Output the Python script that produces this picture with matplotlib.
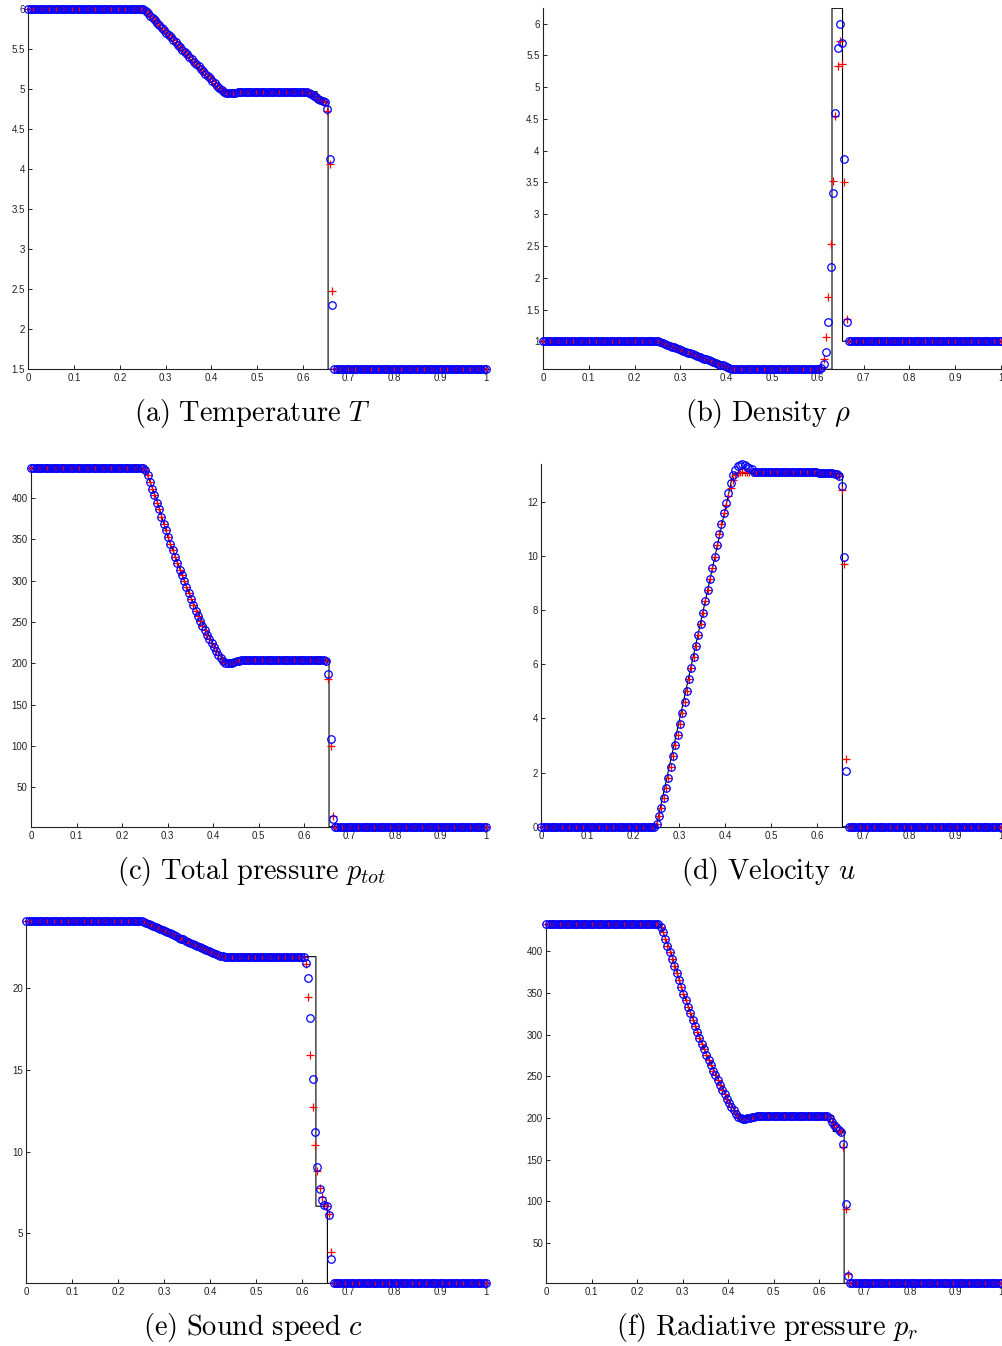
import numpy as np
import matplotlib
matplotlib.use("Agg")
import matplotlib.pyplot as plt

plt.rcParams['font.family'] = ['Liberation Sans', 'DejaVu Sans']
plt.rcParams['mathtext.fontset'] = 'cm'

# ---------------- data ----------------
N_POINTS = 200
N_LEFT, N_FAN, N_PLAT, N_SHOCK, N_RIGHT = 50, 42, 28, 14, 66

x_ticks = [0, 0.1, 0.2, 0.3, 0.4, 0.5, 0.6, 0.7, 0.8, 0.9, 1]
x_tick_labels = ['0', '0.1', '0.2', '0.3', '0.4', '0.5', '0.6', '0.7', '0.8', '0.9', '1']

# (a) Temperature
T_left, T_plat, T_right = 6.0, 4.967, 1.5
T_fan = [5.995, 5.975, 5.947, 5.917, 5.887, 5.857, 5.827, 5.796, 5.766, 5.736,
         5.706, 5.676, 5.645, 5.615, 5.585, 5.555, 5.525, 5.494, 5.464, 5.434,
         5.403, 5.373, 5.343, 5.313, 5.283, 5.253, 5.223, 5.192, 5.162, 5.132,
         5.102, 5.072, 5.042, 5.012, 4.985, 4.963, 4.950, 4.945, 4.946, 4.950,
         4.955, 4.960]
T_shock_o = [4.967, 4.962, 4.952, 4.937, 4.918, 4.898, 4.879, 4.864, 4.852, 4.842,
             4.75, 4.13, 2.30, 1.5]
T_shock_p = [4.967, 4.962, 4.952, 4.937, 4.918, 4.898, 4.879, 4.864, 4.852, 4.842,
             4.72, 4.06, 2.48, 1.5]
T_ex_x = [0, 0.25, 0.42, 0.631, 0.631, 0.655, 0.655, 1]
T_ex_y = [6.0, 6.0, 4.967, 4.967, 4.84, 4.84, 1.5, 1.5]
T_yticks = [1.5, 2, 2.5, 3, 3.5, 4, 4.5, 5, 5.5, 6]
T_ylabels = ['1.5', '2', '2.5', '3', '3.5', '4', '4.5', '5', '5.5', '6']

# (b) Density
rho_left, rho_plat, rho_right = 1.0, 0.559, 1.0
rho_fan = [0.997, 0.983, 0.970, 0.957, 0.943, 0.930, 0.916, 0.903, 0.890, 0.876,
           0.863, 0.849, 0.836, 0.822, 0.809, 0.796, 0.782, 0.769, 0.755, 0.742,
           0.728, 0.715, 0.702, 0.688, 0.675, 0.661, 0.648, 0.634, 0.621, 0.608,
           0.594, 0.582, 0.571, 0.564, 0.561, 0.559, 0.559, 0.559, 0.559, 0.559,
           0.559, 0.559]
rho_shock_o = [0.565, 0.585, 0.643, 0.827, 1.31, 2.17, 3.34, 4.60, 5.61, 6.00,
               5.69, 3.87, 1.31, 1.0]
rho_shock_p = [0.570, 0.600, 0.717, 1.07, 1.69, 2.53, 3.53, 4.54, 5.33, 5.73,
               5.36, 3.51, 1.35, 1.0]
rho_ex_x = [0, 0.25, 0.415, 0.631, 0.631, 0.654, 0.654, 1]
rho_ex_y = [1.0, 1.0, 0.559, 0.559, 6.24, 6.24, 1.0, 1.0]
rho_yticks = [1, 1.5, 2, 2.5, 3, 3.5, 4, 4.5, 5, 5.5, 6]
rho_ylabels = ['1', '1.5', '2', '2.5', '3', '3.5', '4', '4.5', '5', '5.5', '6']

# (c) Total pressure
pt_left, pt_plat, pt_right = 436.5, 204.0, 2.4
pt_fan = [434.3, 427.8, 419.8, 410.9, 402.9, 394.4, 386.0, 377.0, 369.0, 361.0,
          352.5, 344.4, 336.4, 328.7, 321.0, 313.4, 306.2, 299.0, 291.7, 284.5,
          277.2, 270.3, 263.4, 257.4, 251.4, 245.3, 239.7, 234.4, 229.2, 224.0,
          219.2, 214.3, 209.9, 205.9, 202.2, 200.2, 199.8, 199.9, 200.8, 201.8,
          202.5, 203.2]
pt_shock_o = [204, 204, 204, 204, 204, 204, 204, 204, 203.8, 202.5,
              186.6, 108.0, 11.7, 2.4]
pt_shock_p = [204, 204, 204, 204, 204, 204, 204, 204, 203.8, 202.5,
              181.0, 100.5, 15.0, 2.4]
pt_ex_x = [0, 0.25, 0.275, 0.30, 0.35, 0.40, 0.422, 0.655, 0.655, 1]
pt_ex_y = [436.5, 436.5, 400, 354, 281, 224, 204, 204, 2.4, 2.4]
pt_yticks = [50, 100, 150, 200, 250, 300, 350, 400]
pt_ylabels = ['50', '100', '150', '200', '250', '300', '350', '400']

# (d) Velocity
u_left, u_plat, u_right = 0.0, 13.1, 0.0
u_fan_o = [0.1, 0.4, 0.7, 1.07, 1.44, 1.81, 2.2, 2.6, 3.0, 3.4,
           3.8, 4.2, 4.6, 5.0, 5.44, 5.85, 6.26, 6.67, 7.09, 7.5,
           7.91, 8.33, 8.75, 9.16, 9.57, 9.98, 10.39, 10.8, 11.2, 11.6,
           11.97, 12.33, 12.68, 12.98, 13.18, 13.32, 13.38, 13.4, 13.37, 13.3,
           13.25, 13.2]
u_fan_p = [0.1, 0.4, 0.7, 1.07, 1.44, 1.81, 2.2, 2.6, 3.0, 3.4,
           3.8, 4.2, 4.6, 5.0, 5.44, 5.85, 6.26, 6.67, 7.09, 7.5,
           7.91, 8.33, 8.75, 9.16, 9.57, 9.98, 10.39, 10.8, 11.2, 11.6,
           11.9, 12.2, 12.5, 12.8, 13.0, 13.08, 13.11, 13.12, 13.12, 13.12,
           13.12, 13.12]
u_shock_o = [13.08, 13.07, 13.07, 13.06, 13.06, 13.05, 13.05, 13.04, 13.02, 12.97,
             12.58, 9.98, 2.07, 0.0]
u_shock_p = [13.08, 13.07, 13.07, 13.06, 13.06, 13.05, 13.05, 13.04, 13.02, 12.97,
             12.45, 9.69, 2.51, 0.0]
u_ex_x = [0, 0.25, 0.417, 0.655, 0.655, 1]
u_ex_y = [0, 0, 13.05, 13.05, 0, 0]
u_yticks = [0, 2, 4, 6, 8, 10, 12]
u_ylabels = ['0', '2', '4', '6', '8', '10', '12']

# (e) Sound speed
c_left, c_plat, c_right = 24.14, 21.94, 1.94
c_fan = [24.12, 24.07, 24.00, 23.94, 23.87, 23.81, 23.75, 23.68, 23.62, 23.56,
         23.49, 23.43, 23.37, 23.30, 23.24, 23.18, 23.11, 23.05, 22.99, 22.92,
         22.86, 22.80, 22.73, 22.67, 22.61, 22.54, 22.48, 22.42, 22.35, 22.29,
         22.23, 22.16, 22.10, 22.04, 21.98, 21.95, 21.93, 21.92, 21.92, 21.93,
         21.93, 21.94]
c_shock_o = [21.9, 21.57, 20.65, 18.18, 14.43, 11.22, 9.07, 7.73, 7.02, 6.75,
             6.67, 6.14, 3.45, 1.94]
c_shock_p = [21.9, 21.47, 19.45, 15.93, 12.73, 10.4, 8.83, 7.77, 7.24, 6.8,
             6.7, 6.2, 3.87, 1.94]
c_ex_x = [0, 0.25, 0.422, 0.630, 0.630, 0.655, 0.655, 1]
c_ex_y = [24.14, 24.14, 21.94, 21.94, 6.66, 6.66, 1.94, 1.94]
c_yticks = [5, 10, 15, 20]
c_ylabels = ['5', '10', '15', '20']

# (f) Radiative pressure
pr_left, pr_plat, pr_right = 432.4, 202.3, 1.69
pr_fan = [429.5, 422.8, 415.1, 406.7, 399.2, 390.8, 382.4, 373.6, 365.6, 357.2,
          349.2, 341.6, 333.2, 325.7, 318.0, 310.5, 303.3, 296.1, 289.3, 282.5,
          275.7, 269.7, 263.4, 256.9, 251.0, 245.4, 239.7, 234.1, 228.6, 223.3,
          218.5, 213.7, 209.4, 205.3, 201.7, 199.8, 199.0, 199.0, 199.6, 200.5,
          201.2, 201.8]
pr_shock_o = [202.3, 202.3, 202.2, 202.0, 199.5, 195.5, 192.0, 189.0, 186.0, 183.0,
              168.7, 97.1, 10.0, 1.69]
pr_shock_p = [202.3, 202.3, 202.2, 202.0, 199.5, 195.5, 192.0, 189.0, 186.0, 183.0,
              164.7, 91.1, 13.2, 1.69]
pr_ex_x = [0, 0.25, 0.275, 0.30, 0.35, 0.40, 0.422, 0.631, 0.631, 0.655, 0.655, 1]
pr_ex_y = [432.4, 432.4, 398, 352, 279, 222, 202.3, 202.3, 183.8, 183.8, 1.69, 1.69]
pr_yticks = [50, 100, 150, 200, 250, 300, 350, 400]
pr_ylabels = ['50', '100', '150', '200', '250', '300', '350', '400']

captions = [r'$\mathrm{(a)\ Temperature}\ T$',
            r'$\mathrm{(b)\ Density}\ \rho$',
            r'$\mathrm{(c)\ Total\ pressure}\ p_{tot}$',
            r'$\mathrm{(d)\ Velocity}\ u$',
            r'$\mathrm{(e)\ Sound\ speed}\ c$',
            r'$\mathrm{(f)\ Radiative\ pressure}\ p_r$']


def assemble(left, fan, plat, shock, right):
    return np.array([left] * N_LEFT + list(fan) + [plat] * N_PLAT + list(shock) + [right] * N_RIGHT)


x = np.linspace(0, 1, N_POINTS)

panels = [
    (assemble(T_left, T_fan, T_plat, T_shock_o, T_right),
     assemble(T_left, T_fan, T_plat, T_shock_p, T_right), T_ex_x, T_ex_y, T_yticks, T_ylabels),
    (assemble(rho_left, rho_fan, rho_plat, rho_shock_o, rho_right),
     assemble(rho_left, rho_fan, rho_plat, rho_shock_p, rho_right), rho_ex_x, rho_ex_y, rho_yticks, rho_ylabels),
    (assemble(pt_left, pt_fan, pt_plat, pt_shock_o, pt_right),
     assemble(pt_left, pt_fan, pt_plat, pt_shock_p, pt_right), pt_ex_x, pt_ex_y, pt_yticks, pt_ylabels),
    (assemble(u_left, u_fan_o, u_plat, u_shock_o, u_right),
     assemble(u_left, u_fan_p, u_plat, u_shock_p, u_right), u_ex_x, u_ex_y, u_yticks, u_ylabels),
    (assemble(c_left, c_fan, c_plat, c_shock_o, c_right),
     assemble(c_left, c_fan, c_plat, c_shock_p, c_right), c_ex_x, c_ex_y, c_yticks, c_ylabels),
    (assemble(pr_left, pr_fan, pr_plat, pr_shock_o, pr_right),
     assemble(pr_left, pr_fan, pr_plat, pr_shock_p, pr_right), pr_ex_x, pr_ex_y, pr_yticks, pr_ylabels),
]

# ---------------- layout (pixels) ----------------
W, H = 1002, 1346
boxes = [(28.3, 486, 9, 369.3), (543, 1001, 8.3, 369.3),
         (31, 486, 467.7, 826.7), (541.3, 1001, 464, 826.7),
         (26.3, 486, 920.7, 1283.3), (546.3, 1001, 924.3, 1283.3)]
cap_pos = [(252, 413), (768, 413), (252, 871), (768, 871), (253, 1328), (767, 1328)]

fig = plt.figure(figsize=(W / 100, H / 100), dpi=100)
fig.patch.set_facecolor('white')

for (blue, red, ex_x, ex_y, yt, yl), (l, r, t, b), (cx, cy), cap in zip(panels, boxes, cap_pos, captions):
    ax = fig.add_axes([l / W, 1 - b / H, (r - l) / W, (b - t) / H])
    ax.plot(ex_x, ex_y, color='black', lw=0.8, zorder=2)
    ax.plot(x, red, linestyle='none', marker='+', color='red', ms=5.8, mew=0.9,
            clip_on=False, zorder=3)
    ax.plot(x, blue, linestyle='none', marker='o', mfc='none', mec='blue', ms=5.4, mew=0.9,
            clip_on=False, zorder=4)
    allv = np.concatenate([blue, red, np.array(ex_y)])
    ax.set_xlim(0, 1)
    ax.set_ylim(allv.min(), allv.max())
    for s in ('top', 'right'):
        ax.spines[s].set_visible(False)
    for s in ('left', 'bottom'):
        ax.spines[s].set_linewidth(0.8)
        ax.spines[s].set_color('#222222')
    ax.set_xticks(x_ticks)
    ax.set_xticklabels(x_tick_labels)
    ax.set_yticks(yt)
    ax.set_yticklabels(yl)
    ax.tick_params(direction='in', length=3, width=0.7, labelsize=7, colors='#222222', pad=2.5)
    ax.tick_params(axis='x', pad=3)
    fig.text(cx / W, 1 - cy / H, cap, fontsize=20.5, ha='center', va='center')

fig.savefig('out.png', dpi=100, facecolor='white')
